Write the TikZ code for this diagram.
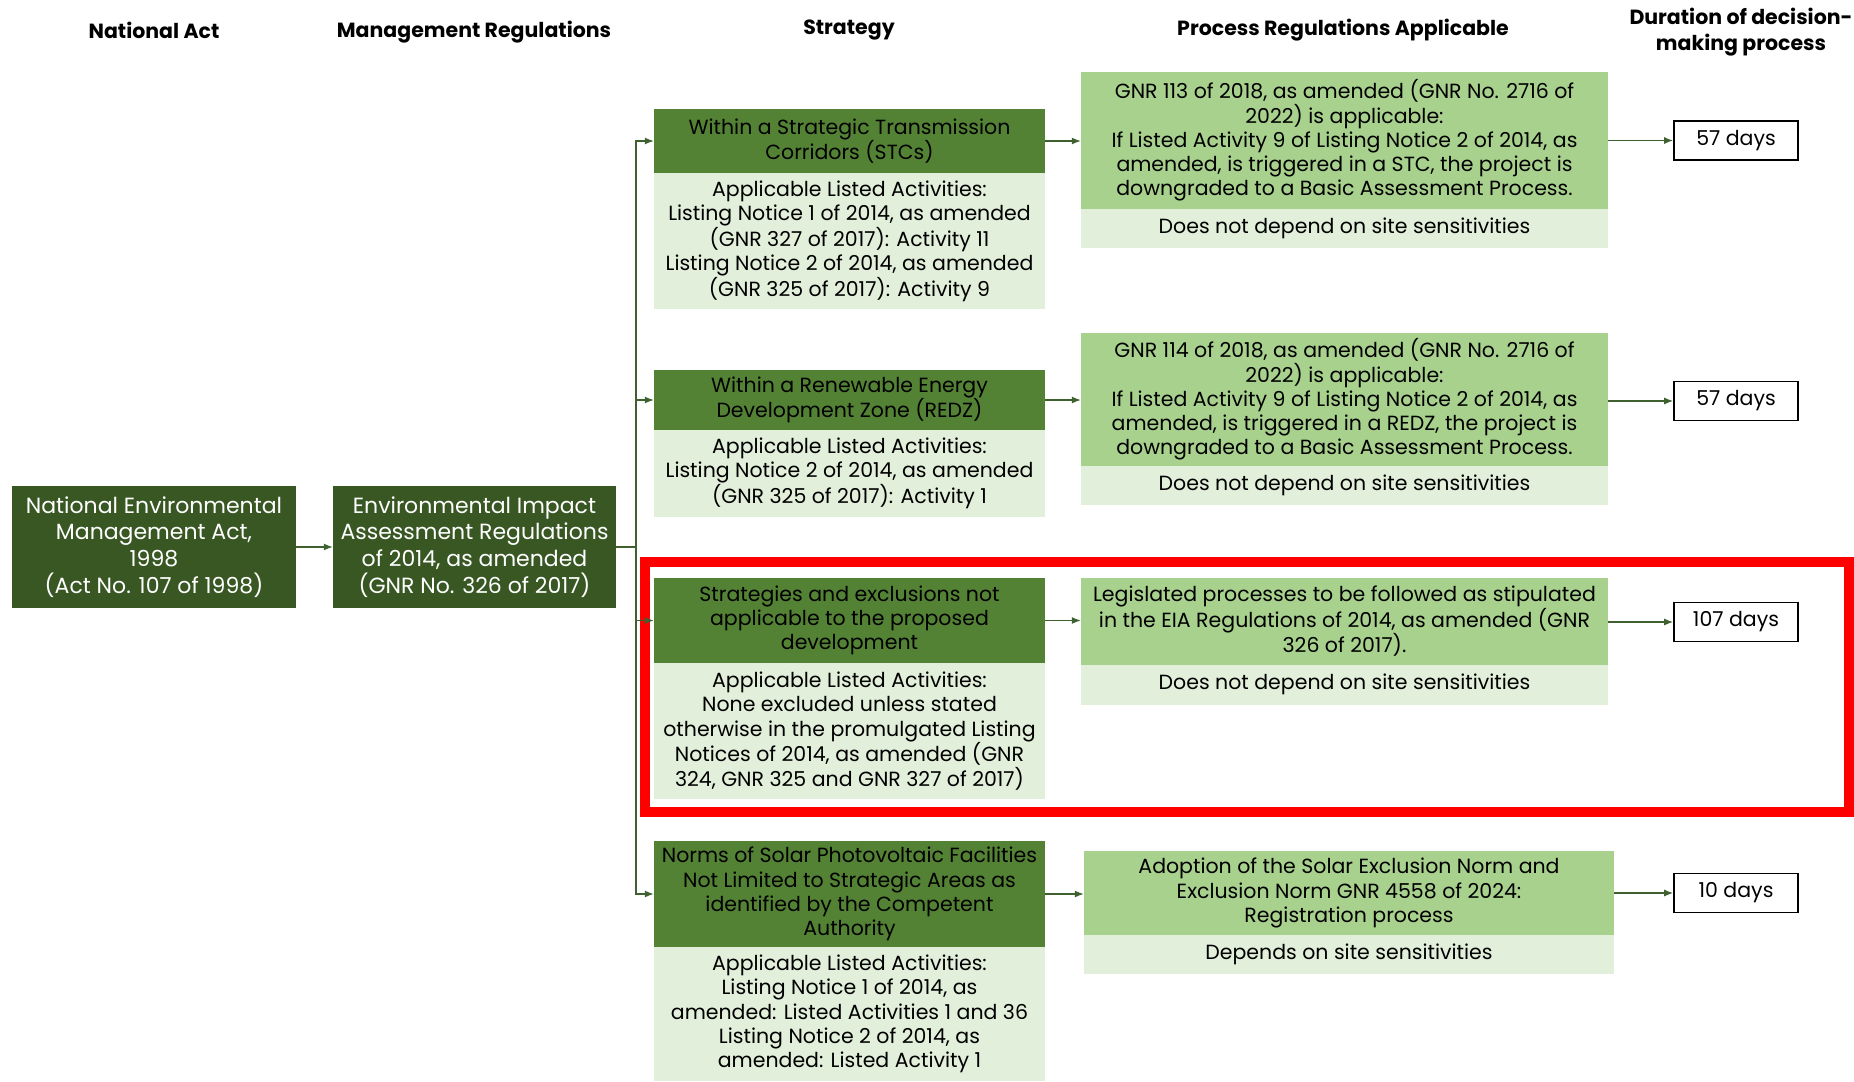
\documentclass[tikz,border=0pt]{standalone}
\usepackage{fontspec}
\setmainfont{Poppins}
\usetikzlibrary{arrows.meta}
\definecolor{actgreen}{HTML}{385723}
\definecolor{stratgreen}{HTML}{548235}
\definecolor{procgreen}{HTML}{A9D18E}
\definecolor{palegreen}{HTML}{E2EFDA}
\definecolor{linegreen}{HTML}{3F6130}
\definecolor{framered}{HTML}{FF0000}
\tikzset{
  basebox/.style={inner sep=0pt, align=center, font=\fontsize{20.5}{24.3}\selectfont},
  actbox/.style={basebox, fill=actgreen, text=white, font=\fontsize{22}{26.8}\selectfont},
  stratbox/.style={basebox, fill=stratgreen, text=black},
  procbox/.style={basebox, fill=procgreen, text=black},
  palebox/.style={basebox, fill=palegreen, text=black},
  daybox/.style={basebox, draw=black, line width=1.6pt, fill=white, minimum width=124pt, minimum height=39pt, font=\fontsize{20.5}{24}\selectfont},
  colhead/.style={inner sep=0pt, align=center, font=\bfseries\fontsize{20.5}{26}\selectfont},
  flow/.style={draw=linegreen, line width=1.3pt, -{Latex[length=9pt,width=7pt]}},
  plainline/.style={draw=linegreen, line width=1.3pt},
  focusframe/.style={draw=framered, line width=10pt, inner sep=0pt}
}
\begin{document}
\begin{tikzpicture}[x=1pt,y=-1pt]
\useasboundingbox[fill=white] (0,0) rectangle (1854,1081);

% column headings
\node[colhead] (h1) at (154,30) {National Act};
\node[colhead] (h2) at (474,32) {Management Regulations};
\node[colhead] (h3) at (849,30) {Strategy};
\node[colhead] (h4) at (1343,30) {Process Regulations Applicable};
\node[colhead] (h5) at (1741,32) {Duration of decision-\\making process};

% act and regulations
\node[actbox, minimum width=284pt, minimum height=122pt] (nema) at (154,547)
  {National Environmental\\Management Act,\\1998\\(Act No. 107 of 1998)};
\node[actbox, minimum width=283pt, minimum height=122pt] (eia) at (474.5,547)
  {Environmental Impact\\Assessment Regulations\\of 2014, as amended\\(GNR No. 326 of 2017)};

% strategy column
\node[stratbox, minimum width=391pt, minimum height=64pt] (s1h) at (849.5,141)
  {Within a Strategic Transmission\\Corridors (STCs)};
\node[palebox, minimum width=391pt, minimum height=136pt] (s1b) at (849.5,241)
  {Applicable Listed Activities:\\Listing Notice 1 of 2014, as amended\\(GNR 327 of 2017): Activity 11\\Listing Notice 2 of 2014, as amended\\(GNR 325 of 2017): Activity 9};
\node[stratbox, minimum width=391pt, minimum height=60pt] (s2h) at (849.5,400)
  {Within a Renewable Energy\\Development Zone (REDZ)};
\node[palebox, minimum width=391pt, minimum height=87pt] (s2b) at (849.5,473.5)
  {Applicable Listed Activities:\\Listing Notice 2 of 2014, as amended\\(GNR 325 of 2017): Activity 1};
\node[stratbox, minimum width=391pt, minimum height=85pt] (s3h) at (849.5,620.5)
  {Strategies and exclusions not\\applicable to the proposed\\development};
\node[palebox, minimum width=391pt, minimum height=136pt] (s3b) at (849.5,731)
  {Applicable Listed Activities:\\None excluded unless stated\\otherwise in the promulgated Listing\\Notices of 2014, as amended (GNR\\324, GNR 325 and GNR 327 of 2017)};
\node[stratbox, minimum width=391pt, minimum height=106pt] (s4h) at (849.5,894)
  {Norms of Solar Photovoltaic Facilities\\Not Limited to Strategic Areas as\\identified by the Competent\\Authority};
\node[palebox, minimum width=391pt, minimum height=134pt] (s4b) at (849.5,1014)
  {Applicable Listed Activities:\\Listing Notice 1 of 2014, as\\amended: Listed Activities 1 and 36\\Listing Notice 2 of 2014, as\\amended: Listed Activity 1};

% process column
\node[procbox, minimum width=527pt, minimum height=137pt] (p1h) at (1344.5,140.5)
  {GNR 113 of 2018, as amended (GNR No. 2716 of\\2022) is applicable:\\If Listed Activity 9 of Listing Notice 2 of 2014, as\\amended, is triggered in a STC, the project is\\downgraded to a Basic Assessment Process.};
\node[palebox, minimum width=527pt, minimum height=39pt] (p1s) at (1344.5,228.5)
  {Does not depend on site sensitivities};
\node[procbox, minimum width=527pt, minimum height=133pt] (p2h) at (1344.5,399.5)
  {GNR 114 of 2018, as amended (GNR No. 2716 of\\2022) is applicable:\\If Listed Activity 9 of Listing Notice 2 of 2014, as\\amended, is triggered in a REDZ, the project is\\downgraded to a Basic Assessment Process.};
\node[palebox, minimum width=527pt, minimum height=39pt] (p2s) at (1344.5,485.5)
  {Does not depend on site sensitivities};
\node[procbox, minimum width=527pt, minimum height=86.5pt] (p3h) at (1344.5,621.25)
  {Legislated processes to be followed as stipulated\\in the EIA Regulations of 2014, as amended (GNR\\326 of 2017).};
\node[palebox, minimum width=527pt, minimum height=40.5pt] (p3s) at (1344.5,684.75)
  {Does not depend on site sensitivities};
\node[procbox, minimum width=530pt, minimum height=84pt] (p4h) at (1349,893)
  {Adoption of the Solar Exclusion Norm and\\Exclusion Norm GNR 4558 of 2024:\\Registration process};
\node[palebox, minimum width=530pt, minimum height=39pt] (p4s) at (1349,954.5)
  {Depends on site sensitivities};

% duration column
\node[daybox] (d1) at (1736,140.5) {57 days};
\node[daybox] (d2) at (1736,401) {57 days};
\node[daybox] (d3) at (1736,622) {107 days};
\node[daybox] (d4) at (1736,893) {10 days};

% highlight frame
\node[focusframe, minimum width=1204pt, minimum height=250pt] (focus) at (1247,687) {};

% connectors
\coordinate (trunk) at (636,547);
\draw[flow] (nema) -- (eia);
\draw[plainline] (eia.east) -- (trunk);
\draw[flow] (trunk) |- (s1h.west);
\draw[flow] (trunk) |- (s2h.west);
\draw[flow] (trunk) |- (s3h.west);
\draw[flow] (trunk) |- (s4h.west);
\draw[flow] (s1h.east) -- (s1h.east -| p1h.west);
\draw[flow] (s2h.east) -- (s2h.east -| p2h.west);
\draw[flow] (s3h.east) -- (s3h.east -| p3h.west);
\draw[flow] (s4h.east) -- (s4h.east -| p4h.west);
\draw[flow] (p1h.east) -- (p1h.east -| d1.west);
\draw[flow] (d2.west -| p2h.east) -- (d2.west);
\draw[flow] (d3.west -| p3h.east) -- (d3.west);
\draw[flow] (p4h.east) -- (p4h.east -| d4.west);
\end{tikzpicture}
\end{document}
